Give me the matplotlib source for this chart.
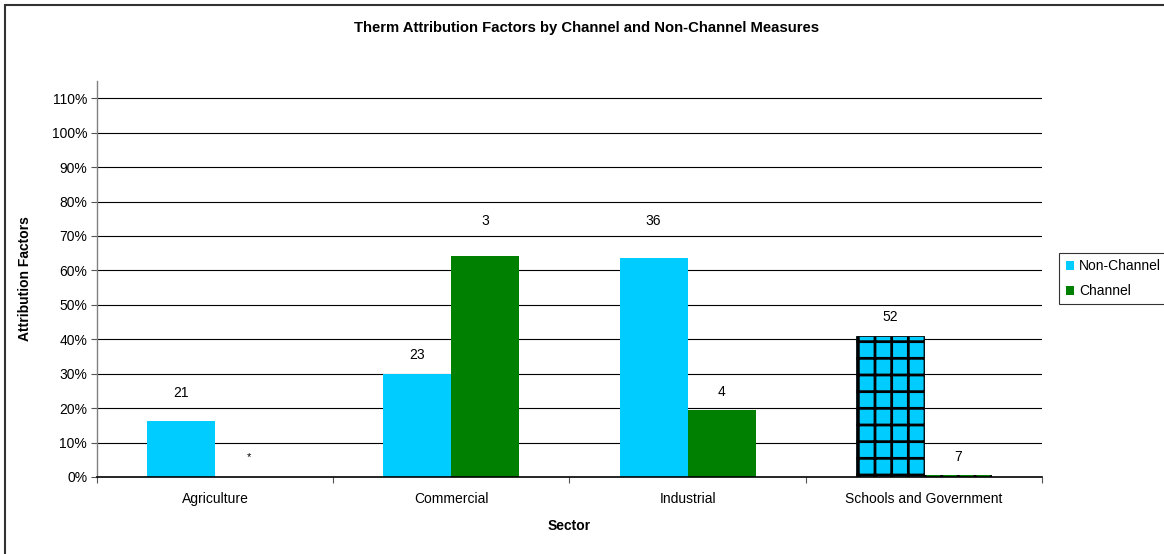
import matplotlib
matplotlib.use("Agg")
import matplotlib.pyplot as plt
from matplotlib.patches import Rectangle
from matplotlib.ticker import FuncFormatter
import numpy as np

plt.rcParams['font.family'] = ['Liberation Sans', 'DejaVu Sans']
plt.rcParams['hatch.linewidth'] = 2.0

# Data
sectors = ["Agriculture", "Commercial", "Industrial", "Schools and Government"]
non_channel = [0.162, 0.298, 0.637, 0.410]
channel = [0.0, 0.642, 0.194, 0.005]
non_channel_n = ["21", "23", "36", "52"]
channel_n = ["*", "3", "4", "7"]

# Extra headroom for each count label above its bar
nc_pad = [0.081, 0.056, 0.105, 0.054]
ch_pad = [0.058, 0.100, 0.052, 0.053]

CYAN = "#00CCFF"
GREEN = "#008000"
FS = 10

fig = plt.figure(figsize=(11.64, 5.54), dpi=100)
ax = fig.add_axes([0.0833, 0.139, 0.8119, 0.7148])

x = np.arange(len(sectors))
w = 0.288
nc_bars = ax.bar(x - w / 2, non_channel, w, color=CYAN, label="Non-Channel", zorder=3)
ch_bars = ax.bar(x + w / 2, channel, w, color=GREEN, label="Channel", zorder=3)

# Schools and Government bars carry a grid pattern
nc_bars[3].set_hatch("+")
nc_bars[3].set_edgecolor("black")
nc_bars[3].set_linewidth(0.6)
ch_bars[3].set_hatch("|")
ch_bars[3].set_edgecolor("black")
ch_bars[3].set_linewidth(0)

for i in range(len(sectors)):
    ax.text(x[i] - w / 2, non_channel[i] + nc_pad[i], non_channel_n[i],
            ha="center", va="center", fontsize=FS, zorder=4)
    ax.text(x[i] + w / 2, channel[i] + ch_pad[i], channel_n[i],
            ha="center", va="center", fontsize=FS if channel_n[i] != "*" else 8, zorder=4)

ax.set_xlim(-0.5, len(sectors) - 0.5)
ax.set_ylim(0, 1.15)

yticks = np.arange(0, 1.101, 0.1)
ax.set_yticks(yticks)
ax.yaxis.set_major_formatter(FuncFormatter(lambda v, p: f"{v*100:.0f}%"))
for v in yticks[1:]:
    ax.axhline(v, color="black", lw=0.8, zorder=1)

ax.set_xticks(x)
ax.set_xticklabels(sectors, fontsize=FS)
ax.set_xticks(np.arange(-0.5, len(sectors), 1.0), minor=True)
ax.tick_params(axis="x", which="major", length=0, pad=11)
ax.tick_params(axis="x", which="minor", length=4, width=0.8, color="#555555")
ax.tick_params(axis="y", length=4, width=0.8, color="#555555", labelsize=FS, pad=3)

for s in ("top", "right"):
    ax.spines[s].set_visible(False)
ax.spines["left"].set_color("#808080")
ax.spines["left"].set_linewidth(1.0)
ax.spines["bottom"].set_color("black")
ax.spines["bottom"].set_linewidth(1.2)
ax.spines["bottom"].set_zorder(5)

ax.set_xlabel("Sector", fontsize=FS, fontweight="bold", labelpad=9)
ax.set_ylabel("Attribution Factors", fontsize=FS, fontweight="bold", labelpad=14)

fig.text(0.5043, 0.949, "Therm Attribution Factors by Channel and Non-Channel Measures",
         ha="center", va="center", fontsize=10.7, fontweight="bold")

leg = ax.legend(loc="upper left", bbox_to_anchor=(1.0185, 0.566), fontsize=FS,
                frameon=True, fancybox=False, edgecolor="black",
                handlelength=0.6, handleheight=0.6, handletextpad=0.35,
                labelspacing=0.8, borderpad=0.45, borderaxespad=0)
leg.get_frame().set_linewidth(0.8)

# Chart-area border
fig.patches.append(Rectangle((5 / 1164, -0.05), 1.2, 1 - 5 / 554 + 0.05,
                             transform=fig.transFigure, fill=False,
                             edgecolor="#333333", lw=1.5))

fig.savefig("out.png", dpi=100)
